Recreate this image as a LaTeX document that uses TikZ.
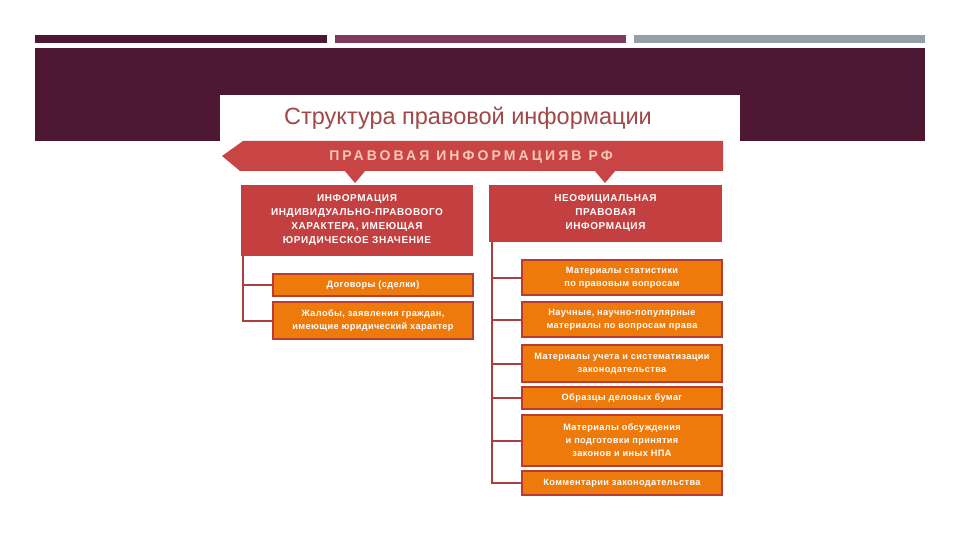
\documentclass[tikz,border=0pt]{standalone}
\usepackage{fontspec}
\setmainfont{Liberation Sans}
\newfontfamily\bannerfont[LetterSpace=22]{Liberation Sans}
\newfontfamily\hdrfont[LetterSpace=6]{Liberation Sans}
\newfontfamily\itemfont[LetterSpace=4]{Liberation Sans}
\usetikzlibrary{positioning}
\definecolor{bandmaroon}{RGB}{78,24,52}
\definecolor{barplum}{RGB}{126,58,94}
\definecolor{bargray}{RGB}{149,160,168}
\definecolor{titlered}{RGB}{160,72,70}
\definecolor{bannerred}{RGB}{201,68,68}
\definecolor{bannertext}{RGB}{248,200,185}
\definecolor{hdrred}{RGB}{196,64,64}
\definecolor{itemorange}{RGB}{238,122,12}
\definecolor{itemedge}{RGB}{184,60,50}
\definecolor{treered}{RGB}{168,64,64}

\begin{document}
\begin{tikzpicture}[x=1pt,y=-1pt,
    hdr/.style={fill=hdrred, text=white, font=\hdrfont\bfseries\fontsize{10}{14}\selectfont, align=center, inner sep=0pt},
    item/.style={fill=itemorange, draw=itemedge, line width=1.6pt, text=white, font=\itemfont\bfseries\fontsize{9.2}{13}\selectfont, align=center, inner sep=0pt, minimum width=200pt},
    tree/.style={draw=treered, line width=2pt}]
    \useasboundingbox (0,0) rectangle (960,540);

    % Slide background
    \fill[white] (0,0) rectangle (960,540);
    \fill[bandmaroon] (35,35) rectangle (327,43);
    \fill[barplum] (335,35) rectangle (626,43);
    \fill[bargray] (634,35) rectangle (925,43);
    \fill[bandmaroon] (35,48) rectangle (925,141);
    \fill[white] (220,95) rectangle (740,141);

    % Title
    \node[text=titlered, font=\fontsize{23.5}{28}\selectfont] (title) at (468,118) {Структура правовой информации};

    % Banner with two notches
    \fill[bannerred] (222,156) -- (243,141) -- (723,141) -- (723,171) -- (240,171) -- cycle;
    \fill[bannerred] (344,170) -- (366,170) -- (355,183) -- cycle;
    \fill[bannerred] (594,170) -- (616,170) -- (605,183) -- cycle;
    \node[text=bannertext, font=\bannerfont\bfseries\fontsize{14}{16}\selectfont] (banner) at (471,157) {ПРАВОВАЯ ИНФОРМАЦИЯВ РФ};

    % Headers
    \node[hdr, minimum width=232pt, minimum height=71pt] (lhead) at (357,220.5)
        {ИНФОРМАЦИЯ\\ИНДИВИДУАЛЬНО-ПРАВОВОГО\\ХАРАКТЕРА, ИМЕЮЩАЯ\\ЮРИДИЧЕСКОЕ ЗНАЧЕНИЕ};
    \node[hdr, minimum width=233pt, minimum height=57pt] (rhead) at (605.5,213.5)
        {НЕОФИЦИАЛЬНАЯ\\ПРАВОВАЯ\\ИНФОРМАЦИЯ};

    % Left items
    \node[item, minimum height=22pt] (l1) at (373,285) {Договоры (сделки)};
    \node[item, minimum height=37pt] (l2) at (373,320.5) {Жалобы, заявления граждан,\\имеющие юридический характер};

    % Right items
    \node[item, minimum height=35pt] (r1) at (622,277.5) {Материалы статистики\\по правовым вопросам};
    \node[item, minimum height=35pt] (r2) at (622,319.5) {Научные, научно-популярные\\материалы по вопросам права};
    \node[item, minimum height=37pt] (r3) at (622,363.5) {Материалы учета и систематизации\\законодательства};
    \node[item, minimum height=22pt] (r4) at (622,398) {Образцы деловых бумаг};
    \node[item, minimum height=51pt] (r5) at (622,440.5) {Материалы обсуждения\\и подготовки принятия\\законов и иных НПА};
    \node[item, minimum height=24pt] (r6) at (622,483) {Комментарии законодательства};

    % Tree lines
    \coordinate (ltop) at (243,256);
    \coordinate (rtop) at (492,242);
    \draw[tree] (ltop) |- (l1.west);
    \draw[tree] (ltop) |- (l2.west);
    \draw[tree] (rtop) |- (r1.west);
    \draw[tree] (rtop) |- (r2.west);
    \draw[tree] (rtop) |- (r3.west);
    \draw[tree] (rtop) |- (r4.west);
    \draw[tree] (rtop) |- (r5.west);
    \draw[tree] (rtop) |- (r6.west);
\end{tikzpicture}
\end{document}
